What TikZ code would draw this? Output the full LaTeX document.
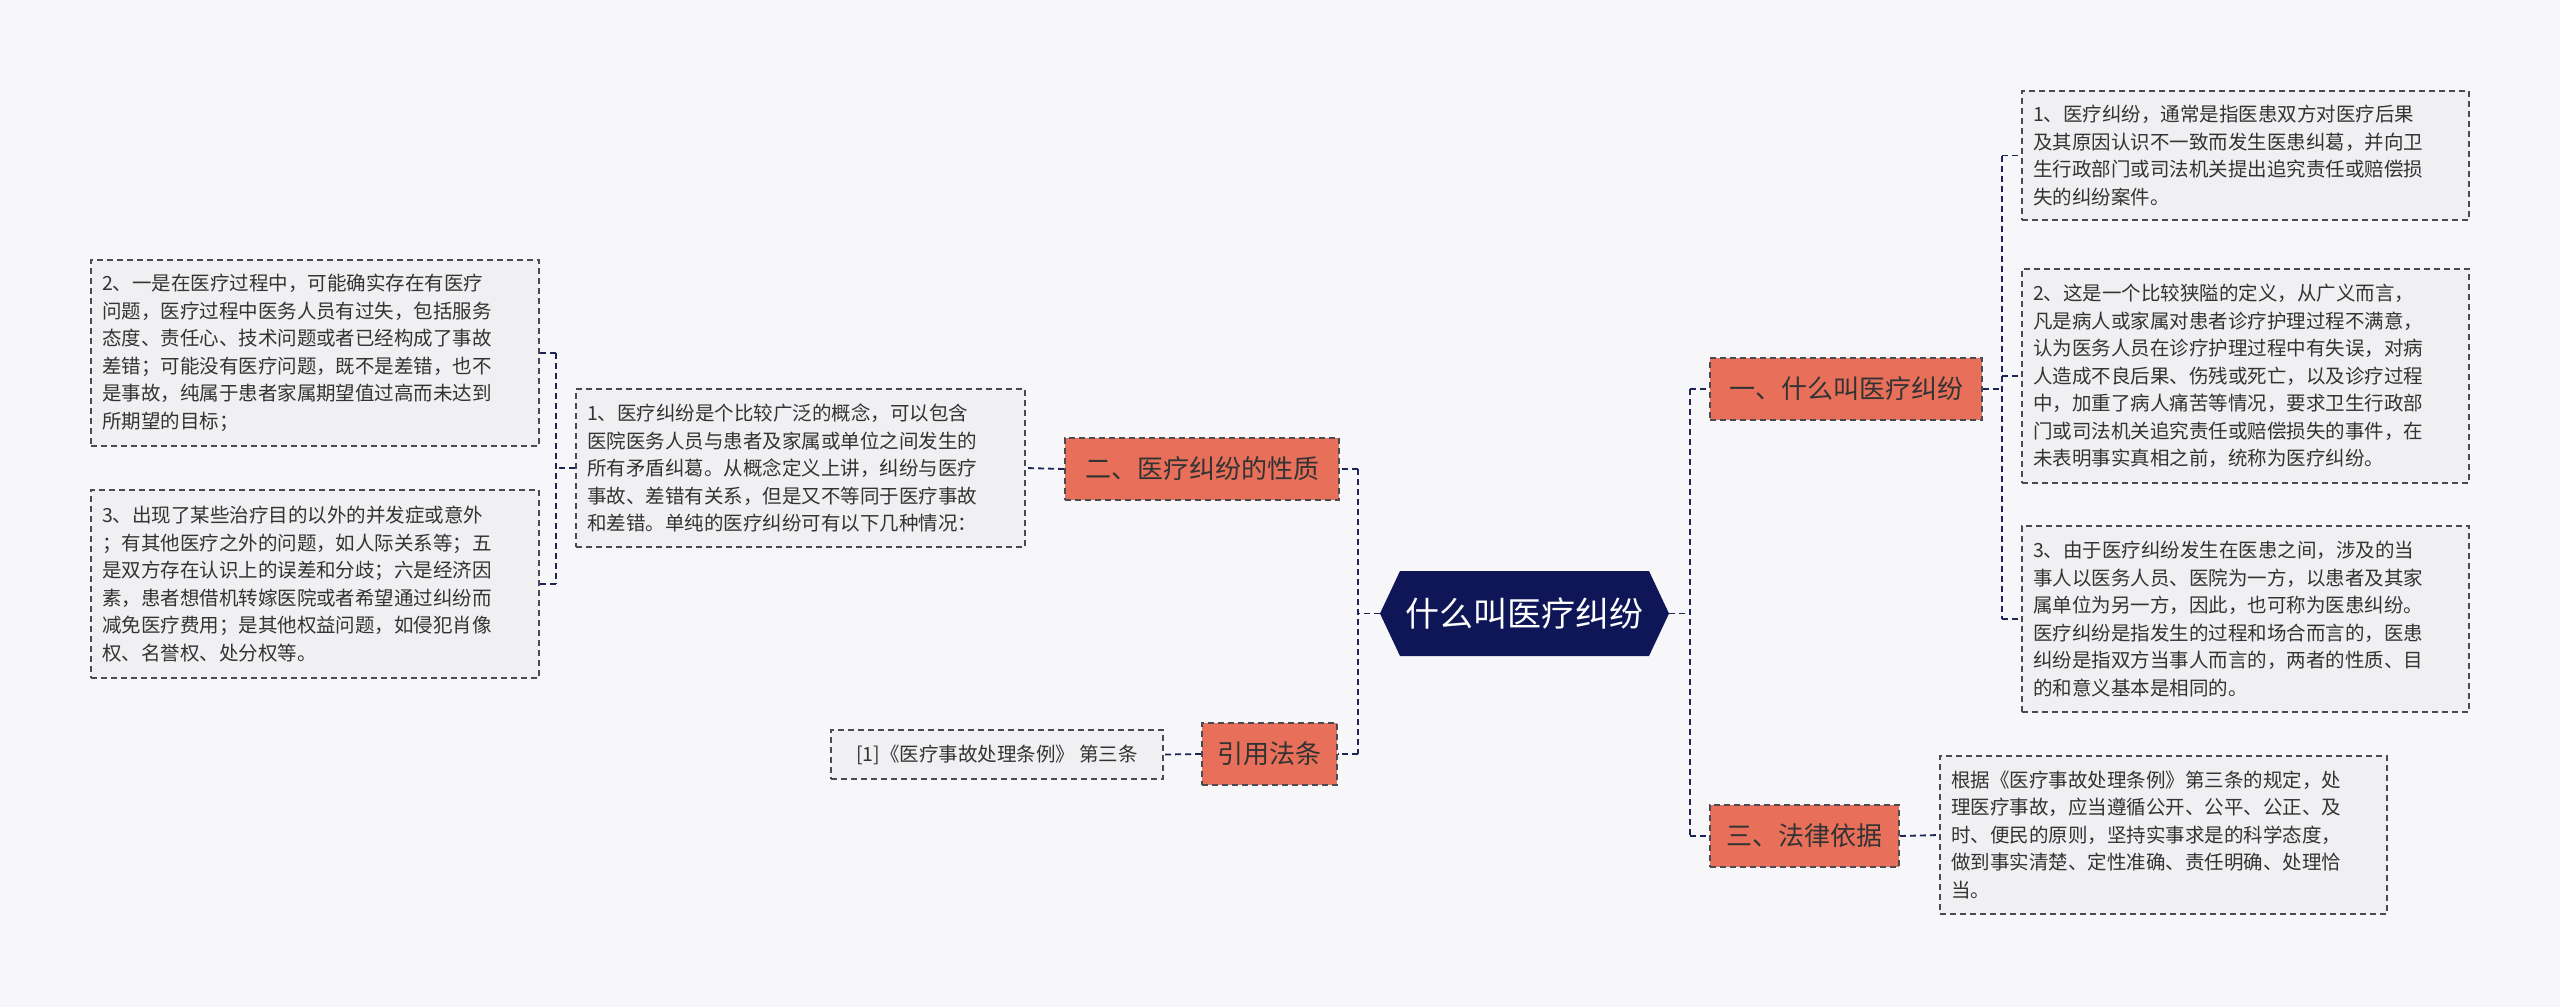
\documentclass[tikz,border=0pt]{standalone}
\usepackage{fontspec}
\setmainfont{Noto Sans CJK SC}
\begin{document}
\begin{tikzpicture}[x=1pt,y=-1pt,
  line/.style={draw=navy,dash pattern=on 6pt off 4pt,line width=1.8pt},
  main/.style={draw=darkg,fill=orange1,dash pattern=on 6pt off 4pt,line width=1.6pt,font=\fontsize{26}{30}\selectfont,text=textc,inner sep=0pt},
  leaf/.style={draw=darkg,fill=leafc,dash pattern=on 6pt off 4pt,line width=1.6pt,font=\fontsize{19.5}{27.5}\selectfont,text=textc,align=left,inner sep=0pt}]
\definecolor{navy}{HTML}{1E2455}
\definecolor{darkg}{HTML}{4A4A55}
\definecolor{orange1}{HTML}{E8705A}
\definecolor{leafc}{HTML}{F0F0F2}
\definecolor{textc}{HTML}{333333}
\definecolor{bgc}{HTML}{F7F7F9}
\definecolor{hexc}{HTML}{0F1657}
\fill[bgc] (0,0) rectangle (2560,1007);
\useasboundingbox (0,0) rectangle (2560,1007);
% center
\node[minimum width=289pt,minimum height=85pt,inner sep=0pt] (c) at (1524.5,613.5) {};
\fill[hexc] (1380,613.5) -- (1400,571) -- (1649,571) -- (1669,613.5) -- (1649,656) -- (1400,656) -- cycle;
\node[text=white,font=\fontsize{34}{38}\selectfont] at (1524.5,613.5) {什么叫医疗纠纷};
% main nodes
\node[main,minimum width=272pt,minimum height=62pt] (m1) at (1846,389) {一、什么叫医疗纠纷};
\node[main,minimum width=189pt,minimum height=62pt] (m3) at (1804.5,836) {三、法律依据};
\node[main,minimum width=274pt,minimum height=62pt] (m2) at (1202,469) {二、医疗纠纷的性质};
\node[main,minimum width=135pt,minimum height=62pt] (m4) at (1269.5,754) {引用法条};
% right leaves
\node[leaf,minimum width=447pt,minimum height=129pt,text width=425pt] (r1) at (2245.5,155.5) {1、医疗纠纷，通常是指医患双方对医疗后果\\及其原因认识不一致而发生医患纠葛，并向卫\\生行政部门或司法机关提出追究责任或赔偿损\\失的纠纷案件。};
\node[leaf,minimum width=447pt,minimum height=214pt,text width=425pt] (r2) at (2245.5,376) {2、这是一个比较狭隘的定义，从广义而言，\\凡是病人或家属对患者诊疗护理过程不满意，\\认为医务人员在诊疗护理过程中有失误，对病\\人造成不良后果、伤残或死亡，以及诊疗过程\\中，加重了病人痛苦等情况，要求卫生行政部\\门或司法机关追究责任或赔偿损失的事件，在\\未表明事实真相之前，统称为医疗纠纷。};
\node[leaf,minimum width=447pt,minimum height=186pt,text width=425pt] (r3) at (2245.5,619) {3、由于医疗纠纷发生在医患之间，涉及的当\\事人以医务人员、医院为一方，以患者及其家\\属单位为另一方，因此，也可称为医患纠纷。\\医疗纠纷是指发生的过程和场合而言的，医患\\纠纷是指双方当事人而言的，两者的性质、目\\的和意义基本是相同的。};
\node[leaf,minimum width=447pt,minimum height=158pt,text width=425pt] (r4) at (2163.5,835) {根据《医疗事故处理条例》第三条的规定，处\\理医疗事故，应当遵循公开、公平、公正、及\\时、便民的原则，坚持实事求是的科学态度，\\做到事实清楚、定性准确、责任明确、处理恰\\当。};
% left leaves
\node[leaf,minimum width=449pt,minimum height=158pt,text width=427pt] (l1) at (800.5,468) {1、医疗纠纷是个比较广泛的概念，可以包含\\医院医务人员与患者及家属或单位之间发生的\\所有矛盾纠葛。从概念定义上讲，纠纷与医疗\\事故、差错有关系，但是又不等同于医疗事故\\和差错。单纯的医疗纠纷可有以下几种情况：};
\node[leaf,minimum width=448pt,minimum height=186pt,text width=426pt] (l2) at (315,353) {2、一是在医疗过程中，可能确实存在有医疗\\问题，医疗过程中医务人员有过失，包括服务\\态度、责任心、技术问题或者已经构成了事故\\差错；可能没有医疗问题，既不是差错，也不\\是事故，纯属于患者家属期望值过高而未达到\\所期望的目标；};
\node[leaf,minimum width=448pt,minimum height=188pt,text width=426pt] (l3) at (315,584) {3、出现了某些治疗目的以外的并发症或意外\\；有其他医疗之外的问题，如人际关系等；五\\是双方存在认识上的误差和分歧；六是经济因\\素，患者想借机转嫁医院或者希望通过纠纷而\\减免医疗费用；是其他权益问题，如侵犯肖像\\权、名誉权、处分权等。};
\node[leaf,minimum width=332pt,minimum height=49pt,align=center] (l4) at (997,754.5) {[1]《医疗事故处理条例》 第三条};
% connectors
\draw[line] (c.east) -- (1690,613.5) (1690,389) -- (1690,836) (1690,389) -- (m1.west) (1690,836) -- (m3.west);
\draw[line] (c.west) -- (1358,613.5) (1358,469) -- (1358,754) (1358,469) -- (m2.east) (1358,754) -- (m4.east);
\draw[line] (m1.east) -- (2002,389) (2002,155.5) -- (2002,619) (2002,155.5) -- (r1.west) (2002,376) -- (r2.west) (2002,619) -- (r3.west);
\draw[line] (m3.east) -- (r4.west);
\draw[line] (m2.west) -- (l1.east);
\draw[line] (l1.west) -- (556,468) (556,353) -- (556,584) (556,353) -- (l2.east) (556,584) -- (l3.east);
\draw[line] (m4.west) -- (l4.east);
\end{tikzpicture}
\end{document}
